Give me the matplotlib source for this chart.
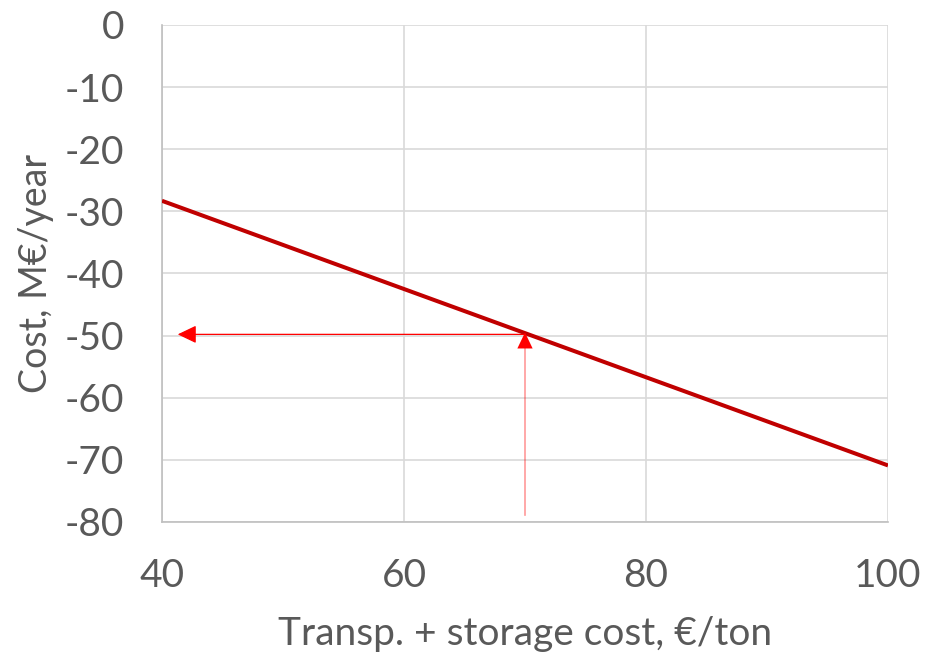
import matplotlib.pyplot as plt

# cost line endpoints (transport + storage cost vs annual cost)
x_cost = [40, 100]
y_cost = [-28.3, -70.9]

# reading arrows: up from the x axis at 70 €/ton, then across to the y axis
x_read = 70
y_read = -49.8
x_arrow_start_y = -78.9
y_arrow_end_x = 41.3

x_ticks = [40, 60, 80, 100]
y_ticks = [0, -10, -20, -30, -40, -50, -60, -70, -80]

plt.rcParams["font.family"] = ["Lato", "DejaVu Sans"]
text_color = "#595959"
grid_color = "#d9d9d9"

fig = plt.figure(figsize=(9.38, 6.63), dpi=100)
ax = fig.add_axes([0.1727, 0.2127, 0.7740, 0.7496])

ax.plot(x_cost, y_cost, color="#c00000", lw=2.9, solid_capstyle="butt", zorder=3)

head = "-|>,head_length=1.15,head_width=0.55"
# faded vertical shaft, then a solid head at the crossing point
ax.plot([x_read, x_read], [x_arrow_start_y, y_read - 2], color="#ff0000",
        lw=1.2, alpha=0.4, zorder=4)
ax.annotate("", xy=(x_read, y_read + 0.3), xytext=(x_read, y_read - 3),
            arrowprops=dict(arrowstyle=head, color="#ff0000", lw=0,
                            shrinkA=0, shrinkB=0), zorder=5)
ax.annotate("", xy=(y_arrow_end_x, y_read), xytext=(x_read, y_read),
            arrowprops=dict(arrowstyle=head, color="#ff0000", lw=0.9,
                            shrinkA=0, shrinkB=0), zorder=4)

ax.set_xlim(40, 100)
ax.set_ylim(-80, 0)
ax.set_xticks(x_ticks)
ax.set_yticks(y_ticks)
ax.set_xticklabels([str(v) for v in x_ticks])
ax.set_yticklabels([str(v) for v in y_ticks])
ax.grid(True, color=grid_color, lw=1.2)
ax.set_axisbelow(True)
for side in ["top", "right"]:
    ax.spines[side].set_visible(False)
for side in ["left", "bottom"]:
    ax.spines[side].set_color("#bfbfbf")
    ax.spines[side].set_linewidth(1.2)

ax.tick_params(axis="both", length=0, labelsize=28, colors=text_color)
ax.tick_params(axis="x", pad=26)
ax.tick_params(axis="y", pad=27)

ax.set_xlabel("Transp. + storage cost, €/ton", fontsize=28, color=text_color, labelpad=16)
ax.set_ylabel("Cost, M€/year", fontsize=27, color=text_color, labelpad=8)

fig.savefig("out.png", dpi=100, facecolor="white")
